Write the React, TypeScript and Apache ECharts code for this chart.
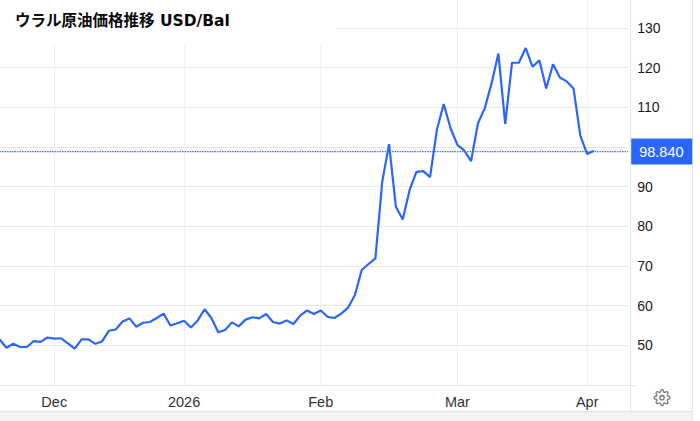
import React, { useEffect, useRef } from "react";
import * as echarts from "echarts";

const titleText = "ウラル原油価格推移 USD/Bal";
const slotCount = 93;
const tickSlots = [8, 27, 47, 67, 86];
const tickLabels = ["Dec", "2026", "Feb", "Mar", "Apr"];
const lastPrice = 98.84;
const prices = [
  51.5, 49.4, 50.4, 49.6, 49.6, 51.1, 50.9, 52, 51.7, 51.8, 50.5, 49.2, 51.5, 51.5, 50.4, 51,
  53.7, 54, 56, 56.8, 54.7, 55.7, 55.9, 56.9, 58, 55, 55.6, 56.2, 54.5, 56.3, 59.1, 56.9,
  53.3, 53.9, 55.8, 54.8, 56.5, 57.1, 56.8, 57.9, 55.9, 55.5, 56.3, 55.4, 57.5, 58.8, 57.9, 58.8,
  57.2, 56.9, 58, 59.5, 62.7, 69, 70.5, 71.9, 91.2, 100.7, 84.9, 81.7, 89.1, 93.7, 93.9, 92.4,
  104.3, 110.8, 104.7, 100.5, 99.1, 96.4, 105.9, 109.7, 116, 123.5, 105.8, 121.2, 121.2, 124.9,
  120.2, 121.8, 114.7, 120.8, 117.5, 116.5, 114.7, 102.8, 98.2, 99,
];

const categories: string[] = [];
for (let i = 0; i < slotCount; i++) {
  const at = tickSlots.indexOf(i);
  categories.push(at >= 0 ? tickLabels[at] : "");
}

const gearPath =
  "M12 15a3 3 0 1 0 0-6 3 3 0 0 0 0 6z M19.4 15a1.65 1.65 0 0 0 .33 1.82l.06.06a2 2 0 0 1 0 2.83 2 2 0 0 1-2.83 0l-.06-.06a1.65 1.65 0 0 0-1.82-.33 1.65 1.65 0 0 0-1 1.51V21a2 2 0 0 1-2 2 2 2 0 0 1-2-2v-.09A1.65 1.65 0 0 0 9 19.4a1.65 1.65 0 0 0-1.82.33l-.06.06a2 2 0 0 1-2.83 0 2 2 0 0 1 0-2.83l.06-.06a1.65 1.65 0 0 0 .33-1.82 1.65 1.65 0 0 0-1.51-1H3a2 2 0 0 1-2-2 2 2 0 0 1 2-2h.09A1.65 1.65 0 0 0 4.6 9a1.65 1.65 0 0 0-.33-1.82l-.06-.06a2 2 0 0 1 0-2.83 2 2 0 0 1 2.83 0l.06.06a1.65 1.65 0 0 0 1.82.33H9a1.65 1.65 0 0 0 1-1.51V3a2 2 0 0 1 2-2 2 2 0 0 1 2 2v.09a1.65 1.65 0 0 0 1 1.51 1.65 1.65 0 0 0 1.82-.33l.06-.06a2 2 0 0 1 2.83 0 2 2 0 0 1 0 2.83l-.06.06a1.65 1.65 0 0 0-.33 1.82V9a1.65 1.65 0 0 0 1.51 1H21a2 2 0 0 1 2 2 2 2 0 0 1-2 2h-.09a1.65 1.65 0 0 0-1.51 1z";
echarts.graphic.registerShape("gear", echarts.graphic.extendPath(gearPath, {}) as any);

const FONT = "'Liberation Sans', Arial, sans-serif";
const BLUE = "#2b66fb";

export default function App() {
  const ref = useRef<HTMLDivElement>(null);
  useEffect(() => {
    const chart = echarts.init(ref.current!, undefined, { renderer: "svg" });
    chart.setOption({
      animation: false,
      backgroundColor: "#ffffff",
      title: {
        text: titleText,
        left: 15,
        top: 13,
        z: 10,
        padding: 0,
        textStyle: {
          fontFamily: "'DejaVu Sans', 'Noto Sans CJK JP', sans-serif",
          fontSize: 15.5,
          fontWeight: "bold",
          color: "#0a0a0a",
        },
      },
      grid: { left: -0.4, top: -11.9, width: 628.6, height: 397, outerBoundsMode: "none" },
      xAxis: {
        type: "category",
        data: categories,
        boundaryGap: false,
        axisLine: { show: false },
        axisTick: { show: false },
        axisLabel: {
          interval: (_: number, v: string) => v !== "",
          margin: 9,
          fontFamily: FONT,
          fontSize: 14.5,
          color: "#333333",
          hideOverlap: false,
        },
        splitLine: {
          show: true,
          interval: (_: number, v: string) => v !== "",
          lineStyle: { color: "#f0f0f0", width: 1 },
        },
      },
      yAxis: {
        type: "value",
        position: "right",
        min: 40,
        max: 140,
        interval: 10,
        axisLine: { show: false },
        axisTick: { show: false },
        axisLabel: {
          margin: 9,
          fontFamily: FONT,
          fontSize: 14,
          color: "#1a1a1a",
          padding: [0, 0, 2, 0],
          showMinLabel: false,
          showMaxLabel: false,
          formatter: (v: number) => (v === 100 ? "" : String(v)),
        },
        splitLine: { show: true, lineStyle: { color: "#e6e6e6", width: 1 } },
      },
      series: [
        {
          type: "line",
          data: prices,
          showSymbol: false,
          smooth: false,
          lineStyle: { color: BLUE, width: 2.2 },
          markLine: {
            silent: true,
            symbol: "none",
            animation: false,
            lineStyle: { color: "#3a70ff", opacity: 1, type: [1.5, 1], width: 1.25 },
            label: {
              show: true,
              position: "end",
              distance: 3,
              formatter: "98.840",
              backgroundColor: BLUE,
              color: "#ffffff",
              fontFamily: FONT,
              fontSize: 14.5,
              width: 53,
              height: 26,
              lineHeight: 26,
              padding: [0, 0, 0, 8],
              align: "left",
              verticalAlign: "middle",
            },
            data: [{ yAxis: lastPrice }],
          },
        },
      ],
      graphic: [
        { type: "rect", z: 5, shape: { x: 0, y: 0, width: 336, height: 45 }, style: { fill: "#ffffff" } },
        { type: "rect", z: 1, shape: { x: 0, y: 411, width: 692, height: 10 }, style: { fill: "#f3f3f3" } },
        { type: "line", z: 2, shape: { x1: 0, y1: 411.5, x2: 692, y2: 411.5 }, style: { stroke: "#e2e2e2", lineWidth: 1 } },
        { type: "line", z: 2, shape: { x1: 0, y1: 385.5, x2: 636, y2: 385.5 }, style: { stroke: "#e6e6e6", lineWidth: 1 } },
        { type: "line", z: 2, shape: { x1: 630.5, y1: 0, x2: 630.5, y2: 411 }, style: { stroke: "#e6e6e6", lineWidth: 1 } },
        { type: "line", z: 2, shape: { x1: 692.5, y1: 0, x2: 692.5, y2: 421 }, style: { stroke: "#e6e6e6", lineWidth: 1 } },
        {
          type: "gear",
          z: 3,
          x: 653.4,
          y: 389,
          scaleX: 0.72,
          scaleY: 0.72,
          style: { fill: "none", stroke: "#777777", lineWidth: 1.8 },
        },
      ],
    });
    return () => chart.dispose();
  }, []);
  return <div ref={ref} style={{ position: "absolute", left: 0, top: 0, width: 700, height: 421 }} />;
}
